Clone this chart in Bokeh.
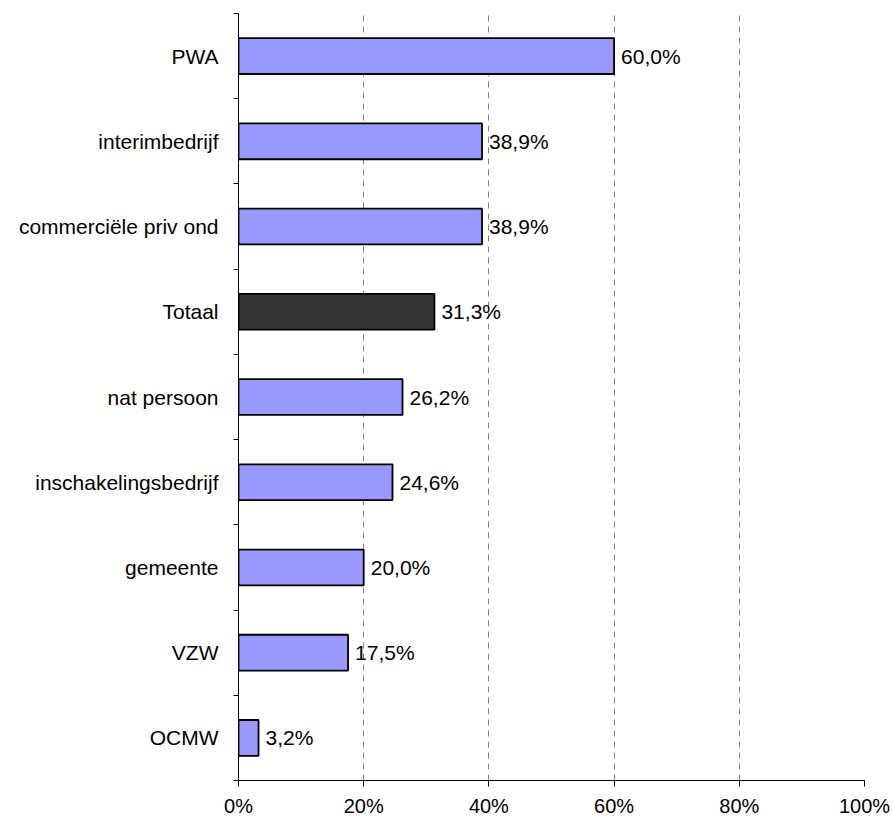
from bokeh.plotting import figure
from bokeh.models import ColumnDataSource, Range1d, FixedTicker, PrintfTickFormatter
from bokeh.core.properties import value
from bokeh.embed import file_html
from bokeh.resources import INLINE

# Data (top to bottom as shown)
categories = ["PWA", "interimbedrijf", "commerciële priv ond", "Totaal",
              "nat persoon", "inschakelingsbedrijf", "gemeente", "VZW", "OCMW"]
values = [60.0, 38.9, 38.9, 31.3, 26.2, 24.6, 20.0, 17.5, 3.2]
bar_colors = ["#9999FF", "#9999FF", "#9999FF", "#333333",
              "#9999FF", "#9999FF", "#9999FF", "#9999FF", "#9999FF"]
x_ticks = [0, 20, 40, 60, 80, 100]

n = len(categories)
ypos = [n - i for i in range(n)]  # PWA on top
labels = [f"{v:.1f}%".replace(".", ",") for v in values]

src = ColumnDataSource(dict(y=ypos, v=values, c=bar_colors, lbl=labels))

FONT = "Liberation Sans"

p = figure(output_backend="svg", toolbar_location=None,
           frame_width=626, frame_height=767,
           x_range=Range1d(0, 100), y_range=Range1d(0.5, n + 0.5),
           min_border_left=238, min_border_right=29,
           min_border_top=13, min_border_bottom=40)
p.outline_line_color = None
p.background_fill_color = "white"
p.border_fill_color = "white"

p.hbar(y="y", right="v", left=0, height=0.42, fill_color="c",
       line_color="black", line_width=1.8, source=src)

p.text(x="v", y="y", text="lbl", source=src, x_offset=7,
       text_align="left", text_baseline="middle",
       text_font=value(FONT), text_font_size="21px", text_color="black")

# x axis
xa = p.xaxis[0]
xa.ticker = FixedTicker(ticks=x_ticks)
xa.formatter = PrintfTickFormatter(format="%d%%")
xa.axis_line_color = "black"
xa.major_tick_line_color = "black"
xa.major_tick_out = 6
xa.major_tick_in = 0
xa.minor_tick_line_color = None
xa.major_label_text_font = FONT
xa.major_label_text_font_size = "20px"
xa.major_label_text_color = "black"
xa.major_label_standoff = 8

# y axis: labels at centers, ticks at boundaries (minor)
ya = p.yaxis[0]
ya.ticker = FixedTicker(ticks=ypos, minor_ticks=[k + 0.5 for k in range(n + 1)])
ya.major_label_overrides = {ypos[i]: categories[i] for i in range(n)}
ya.major_tick_line_color = None
ya.major_tick_out = 0
ya.major_tick_in = 0
ya.minor_tick_line_color = "black"
ya.minor_tick_out = 5
ya.minor_tick_in = 0
ya.axis_line_color = "black"
ya.major_label_text_font = FONT
ya.major_label_text_font_size = "21px"
ya.major_label_text_color = "black"
ya.major_label_standoff = 15

p.xgrid.ticker = FixedTicker(ticks=x_ticks[1:])
p.xgrid.grid_line_color = "#808080"
p.xgrid.grid_line_dash = "6 5"
p.xgrid.grid_line_width = 1
p.ygrid.grid_line_color = None

open("out.html", "w").write(file_html(p, INLINE))
